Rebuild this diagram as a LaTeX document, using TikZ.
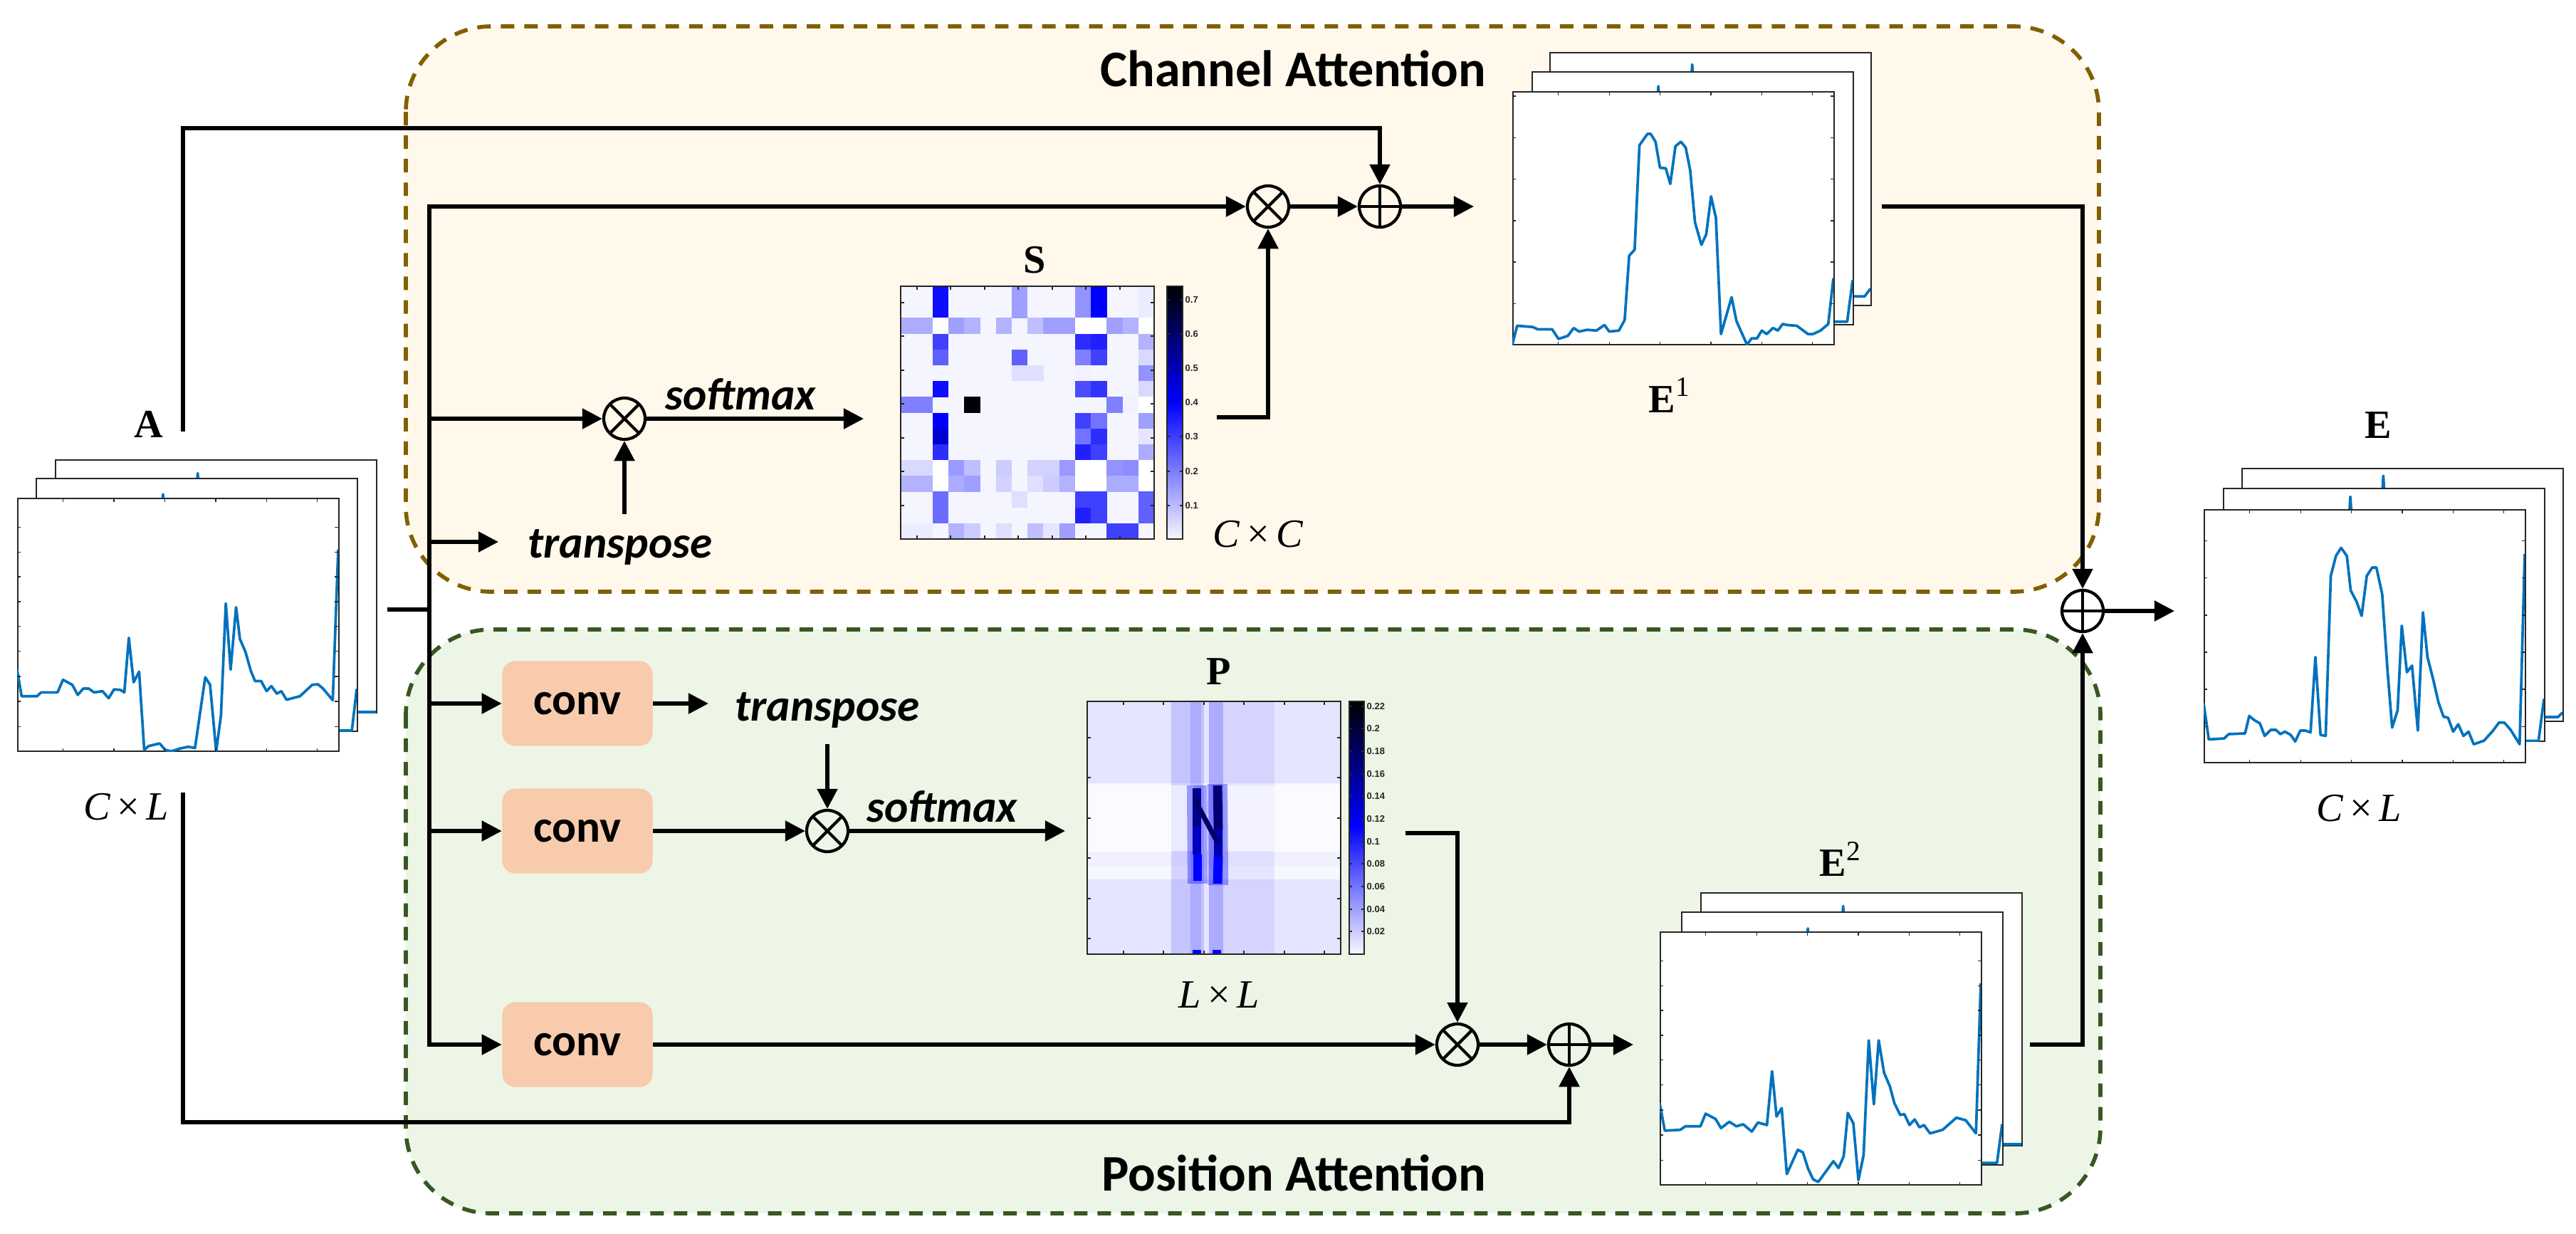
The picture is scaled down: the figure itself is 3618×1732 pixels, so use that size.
\documentclass[tikz,border=0pt]{standalone}
\usepackage{fontspec}
\setmainfont{Liberation Serif}
\newfontfamily\carl{Carlito}
\newfontfamily\arl{Liberation Sans}
\usetikzlibrary{arrows.meta,calc}
\definecolor{chfill}{RGB}{255,248,235}
\definecolor{chborder}{RGB}{128,96,0}
\definecolor{psfill}{RGB}{237,245,230}
\definecolor{psborder}{RGB}{56,87,35}
\definecolor{convfill}{RGB}{248,203,173}
\definecolor{sigblue}{RGB}{0,114,189}
\definecolor{framegray}{RGB}{38,38,38}
\tikzset{
 conn/.style={line width=1.5pt, line join=miter},
 arr/.style={conn, -{Triangle[length=8pt,width=8pt]}},
 opcirc/.style={circle, draw, line width=1.2pt, minimum size=0.58cm, inner sep=0pt},
 mult/.style={opcirc, path picture={\draw[line width=1.2pt] (path picture bounding box.north west)--(path picture bounding box.south east) (path picture bounding box.north east)--(path picture bounding box.south west);}},
 plus/.style={opcirc, path picture={\draw[line width=1.2pt] (path picture bounding box.north)--(path picture bounding box.south) (path picture bounding box.east)--(path picture bounding box.west);}},
 convbox/.style={fill=convfill, rounded corners=0.18cm, minimum width=2.11cm, minimum height=1.19cm, inner sep=0pt, font=\carl\bfseries\fontsize{18}{18}\selectfont},
 optext/.style={font=\carl\bfseries\itshape\fontsize{18}{18}\selectfont, inner sep=1pt},
 title/.style={font=\carl\bfseries\fontsize{20.5}{20.5}\selectfont, inner sep=0pt},
 mlabel/.style={font=\fontsize{16}{16}\selectfont, inner sep=0pt},
 pframe/.style={draw=framegray, fill=white, line width=0.45pt, inner sep=0pt, minimum width=4.51cm, minimum height=3.55cm, anchor=north west},
 sig/.style={draw=sigblue, line width=1.05pt, line join=round},
 tick/.style={draw=framegray, line width=0.4pt},
 cbl/.style={font=\arl\bfseries\fontsize{3.7}{3.7}\selectfont, inner sep=0pt, anchor=west, text=framegray},
 grp/.style={dash pattern=on 5.4pt off 4pt, line width=1.6pt, rounded corners=1.2cm},
 hmframe/.style={draw=framegray, line width=0.5pt},
}
\newcommand\inframe[2]{\begin{scope}[shift={(#1.south west)}, xscale=451, yscale=-355]\clip (0,0) rectangle (1,1); #2\end{scope}}
\newcommand\fticks[1]{\foreach \t in {0.143,0.302,0.46,0.619,0.777,0.935}{\draw[tick] (\t,0)--(\t,0.013) (\t,1)--(\t,0.987);}\foreach \t in {#1}{\draw[tick] (0,\t)--(0.01,\t) (1,\t)--(0.99,\t);}}
\newcommand\sigA{\draw[sig] (0,0.325)--(0.014,0.22)--(0.062,0.22)--(0.075,0.235)--(0.126,0.235)--(0.143,0.285)--(0.172,0.265)--(0.189,0.225)--(0.206,0.25)--(0.223,0.25)--(0.24,0.235)--(0.266,0.24)--(0.285,0.212)--(0.302,0.247)--(0.321,0.245)--(0.334,0.235)--(0.348,0.451)--(0.363,0.275)--(0.38,0.317)--(0.396,0.008)--(0.41,0.023)--(0.444,0.033)--(0.461,0.008)--(0.48,0.002)--(0.508,0.013)--(0.533,0.02)--(0.554,0.015)--(0.586,0.295)--(0.601,0.265)--(0.62,0.002)--(0.635,0.144)--(0.65,0.587)--(0.665,0.325)--(0.682,0.572)--(0.694,0.446)--(0.711,0.396)--(0.728,0.32)--(0.741,0.28)--(0.76,0.28)--(0.777,0.24)--(0.792,0.26)--(0.809,0.23)--(0.823,0.24)--(0.839,0.206)--(0.881,0.22)--(0.919,0.265)--(0.937,0.267)--(0.953,0.25)--(0.983,0.204)--(1,0.8);}
\newcommand\sigEa{\draw[sig] (0,0.002)--(0.015,0.077)--(0.064,0.072)--(0.079,0.063)--(0.124,0.063)--(0.144,0.025)--(0.173,0.037)--(0.191,0.068)--(0.208,0.054)--(0.233,0.061)--(0.262,0.058)--(0.287,0.08)--(0.302,0.054)--(0.332,0.058)--(0.35,0.1)--(0.364,0.354)--(0.381,0.378)--(0.396,0.791)--(0.421,0.836)--(0.431,0.836)--(0.446,0.805)--(0.46,0.702)--(0.478,0.7)--(0.492,0.638)--(0.508,0.787)--(0.525,0.805)--(0.54,0.782)--(0.554,0.692)--(0.569,0.486)--(0.589,0.397)--(0.604,0.439)--(0.619,0.589)--(0.634,0.505)--(0.65,0.044)--(0.683,0.19)--(0.698,0.096)--(0.731,0.002)--(0.745,0.027)--(0.762,0.027)--(0.777,0.058)--(0.792,0.044)--(0.812,0.068)--(0.827,0.058)--(0.842,0.084)--(0.856,0.08)--(0.886,0.077)--(0.921,0.044)--(0.936,0.044)--(0.96,0.058)--(0.984,0.084)--(1,0.265);}
\newcommand\sigEb{\draw[sig] (0,0.325)--(0.016,0.217)--(0.064,0.22)--(0.08,0.234)--(0.127,0.234)--(0.143,0.284)--(0.174,0.263)--(0.191,0.227)--(0.217,0.252)--(0.239,0.234)--(0.26,0.242)--(0.287,0.213)--(0.306,0.249)--(0.334,0.239)--(0.35,0.452)--(0.364,0.273)--(0.38,0.306)--(0.396,0.045)--(0.43,0.141)--(0.446,0.131)--(0.462,0.067)--(0.478,0.024)--(0.494,0.014)--(0.541,0.096)--(0.557,0.069)--(0.573,0.115)--(0.586,0.287)--(0.603,0.246)--(0.619,0.021)--(0.635,0.12)--(0.651,0.574)--(0.667,0.321)--(0.682,0.574)--(0.699,0.445)--(0.717,0.392)--(0.731,0.325)--(0.749,0.279)--(0.762,0.282)--(0.778,0.239)--(0.794,0.261)--(0.809,0.23)--(0.823,0.239)--(0.842,0.206)--(0.881,0.22)--(0.924,0.268)--(0.953,0.258)--(0.985,0.206)--(1,0.8);}
\newcommand\sigE{\draw[sig] (0,0.237)--(0.016,0.094)--(0.064,0.098)--(0.078,0.115)--(0.129,0.118)--(0.142,0.187)--(0.158,0.17)--(0.175,0.158)--(0.19,0.108)--(0.209,0.132)--(0.225,0.132)--(0.239,0.115)--(0.253,0.125)--(0.271,0.112)--(0.285,0.086)--(0.301,0.129)--(0.317,0.129)--(0.333,0.122)--(0.348,0.42)--(0.364,0.112)--(0.38,0.108)--(0.396,0.741)--(0.412,0.82)--(0.428,0.852)--(0.446,0.82)--(0.458,0.683)--(0.476,0.64)--(0.492,0.583)--(0.508,0.741)--(0.525,0.774)--(0.538,0.774)--(0.556,0.669)--(0.573,0.36)--(0.587,0.141)--(0.604,0.209)--(0.617,0.544)--(0.633,0.36)--(0.649,0.386)--(0.667,0.129)--(0.683,0.597)--(0.697,0.42)--(0.715,0.331)--(0.731,0.242)--(0.747,0.184)--(0.761,0.18)--(0.777,0.125)--(0.793,0.154)--(0.809,0.108)--(0.825,0.125)--(0.841,0.075)--(0.873,0.089)--(0.9,0.127)--(0.92,0.161)--(0.936,0.161)--(0.956,0.132)--(0.984,0.075)--(1,0.827);}
\newcommand\spike[2]{\draw[sig] (#1-0.008,0.8)--(#1,#2)--(#1+0.008,0.8);}
\newcommand\hmS[1]{%
 \pgfmathsetmacro\hmP{min(100,#1/0.4*100)}%
 \pgfmathsetmacro\hmQ{max(0,min(100,(0.73-#1)/0.33*100))}%
 \pgfmathtruncatemacro\hmT{#1>0.4?1:0}%
 \ifnum\hmT=1 \colorlet{hc}{blue!\hmQ!black}\else\colorlet{hc}{blue!\hmP!white}\fi}
\begin{document}
\begin{tikzpicture}[x=0.01cm, y=-0.01cm]
\useasboundingbox (0,0) rectangle (3618,1732);
% ---------- groups
\draw[grp, draw=chborder, fill=chfill] (570,37) rectangle (2948,831);
\draw[grp, draw=psborder, fill=psfill] (570,884) rectangle (2950,1704);
\node[title, anchor=base east] (tCh) at (2088,121) {Channel Attention};
\node[title, anchor=base east] (tPs) at (2088,1672) {Position Attention};
% ---------- stack A
\node[pframe] (Aback) at (77,645) {};
\inframe{Aback}{\draw[sig] (0.9,0.005)--(1,0.005); \spike{0.445}{0.95}}
\node[pframe] (Amid) at (50,671) {};
\inframe{Amid}{\draw[sig] (0.94,0.005)--(0.985,0.005)--(1,0.17); \spike{0.397}{0.94}}
\node[pframe] (Afront) at (24,699) {};
\inframe{Afront}{\sigA\fticks{0.1,0.199,0.298,0.398,0.496,0.594,0.693,0.79,0.889}}
\node[mlabel] (labA) at (209,596) {\bfseries A};
\node[mlabel] (labCL1) at (177,1133) {\textit{C}\,×\,\textit{L}};
% ---------- stack E1
\node[pframe] (E1back) at (2176,73) {};
\inframe{E1back}{\draw[sig] (0.945,0.038)--(0.982,0.038)--(1,0.069); \spike{0.445}{0.956}}
\node[pframe] (E1mid) at (2151,100) {};
\inframe{E1mid}{\draw[sig] (0.94,0.014)--(0.983,0.014)--(1,0.178); \spike{0.395}{0.946}}
\node[pframe] (E1front) at (2124,128) {};
\inframe{E1front}{\sigEa\fticks{0.164,0.329,0.492,0.657,0.82,0.985}}
\node[mlabel] (labE1) at (2345,555) {\bfseries E\textsuperscript{\mdseries 1}};
% ---------- stack E2
\node[pframe] (E2back) at (2388,1253) {};
\inframe{E2back}{\draw[sig] (0.94,0.008)--(1,0.008); \spike{0.445}{0.95}}
\node[pframe] (E2mid) at (2361,1280) {};
\inframe{E2mid}{\draw[sig] (0.935,0.01)--(0.984,0.01)--(1,0.164); \spike{0.395}{0.938}}
\node[pframe] (E2front) at (2331,1308) {};
\inframe{E2front}{\sigEb\fticks{0.1,0.199,0.298,0.398,0.496,0.594,0.693,0.79,0.889}}
\node[mlabel] (labE2) at (2585,1206) {\bfseries E\textsuperscript{\mdseries 2}};
% ---------- stack E
\node[pframe] (Eback) at (3148,657) {};
\inframe{Eback}{\draw[sig] (0.944,0.019)--(0.986,0.019)--(1,0.037); \spike{0.442}{0.974}}
\node[pframe] (Emid) at (3122,685) {};
\inframe{Emid}{\draw[sig] (0.941,0.004)--(0.983,0.004)--(1,0.17); \spike{0.397}{0.97}}
\node[pframe] (Efront) at (3095,715) {};
\inframe{Efront}{\sigE\fticks{0.144,0.292,0.439,0.586,0.734,0.88}}
\node[mlabel] (labE) at (3340,597) {\bfseries E};
\node[mlabel] (labCL2) at (3313,1135) {\textit{C}\,×\,\textit{L}};
% ---------- S heatmap
\node[inner sep=0pt, minimum width=3.56cm, minimum height=3.55cm, anchor=north west] (Smap) at (1265,402) {};
\begin{scope}[shift={(Smap.north west)}]
\fill[blue!4!white] (0,0) rectangle (356,355);
\foreach \r/\c/\v in {0/2/.38,1/2/.38,0/7/.15,1/7/.15,0/11/.17,1/11/.17,0/12/.40,1/12/.40,0/15/.03,1/15/.03,
 2/0/.13,2/1/.13,2/2/0,2/3/.15,2/4/.12,2/6/.12,2/8/.10,2/9/.15,2/10/.15,2/11/0,2/12/0,2/13/.15,2/14/.12,2/15/0,
 3/2/.30,3/11/.33,3/12/.35,3/15/.12,
 4/2/.25,4/7/.25,4/11/.20,4/12/.30,4/15/.06,
 5/7/.05,5/8/.05,5/11/.02,5/15/.17,
 6/2/.38,6/11/.28,6/12/.32,6/15/.06,
 7/0/.20,7/1/.20,7/4/.72,7/13/.20,7/14/.02,7/15/0,
 8/2/.40,8/11/.30,8/12/.22,8/15/.15,
 9/2/.46,9/11/.22,9/12/.33,9/15/.04,
 10/2/.33,10/11/.35,10/12/.30,10/15/.13,
 11/0/.06,11/1/.06,11/2/0,11/3/.16,11/4/.10,11/6/.08,11/8/.07,11/9/.07,11/10/.16,11/11/0,11/12/0,11/13/.17,11/14/.18,11/15/0,
 12/0/.12,12/1/.12,12/2/0,12/3/.13,12/4/.15,12/6/.07,12/8/.05,12/9/.08,12/10/.12,12/11/0,12/12/0,12/13/.13,12/14/.13,12/15/0,
 13/2/.23,13/7/.05,13/11/.30,13/12/.30,13/15/.25,
 14/2/.23,14/11/.35,14/12/.30,14/15/.25,
 15/0/.03,15/1/.03,15/3/.12,15/4/.08,15/6/.05,15/8/.10,15/9/.04,15/10/.15,15/13/.30,15/14/.30}
 {\hmS{\v}\fill[hc] (\c*22.25,\r*22.19) rectangle ++(22.6,22.5);}
\draw[hmframe] (0,0) rectangle (356,355);
\foreach \t in {23,70,118,165,213,260,308}{\draw[tick] (\t,355)--(\t,350) (\t,0)--(\t,5) (0,\t)--(5,\t) (356,\t)--(351,\t);}
\end{scope}
% S colorbar
\shade[bottom color=blue!3!white, top color=blue] (1639,757) rectangle (1661,565);
\shade[bottom color=blue, top color=black] (1639,565) rectangle (1661,402);
\draw[hmframe] (1639,402) rectangle (1661,757);
\foreach \y/\l in {421/0.7,469/0.6,517/0.5,565/0.4,613/0.3,662/0.2,710/0.1}{\draw[tick] (1639,\y)--(1643,\y) (1661,\y)--(1657,\y); \node[cbl] at (1664,\y) {\l};}
\node[mlabel] (labS) at (1453,365) {\bfseries S};
\node[mlabel] (labCC) at (1767,750) {\textit{C}\,×\,\textit{C}};
% ---------- P heatmap
\node[inner sep=0pt, minimum width=3.56cm, minimum height=3.55cm, anchor=north west] (Pmap) at (1527,985) {};
\begin{scope}[shift={(Pmap.north west)}]
\fill[blue!10!white] (0,0) rectangle (356,355);
\fill[blue!3!white] (0,115) rectangle (356,212);
\fill[blue!6!white] (0,212) rectangle (356,232);
\fill[blue!3!white] (0,232) rectangle (356,250);
\fill[blue, opacity=.14] (118,0) rectangle (164,355);
\fill[blue, opacity=.12] (145,0) rectangle (160,355);
\fill[blue, opacity=.25] (171,0) rectangle (191,355);
\fill[blue, opacity=.07] (191,0) rectangle (263,355);
\fill[white, opacity=.55] (0,118) rectangle (150,210);
\fill[white, opacity=.55] (195,118) rectangle (356,210);
\draw[blue, opacity=.35, line width=8pt] (154,118)--(155,256) (183,116)--(184,258);
\draw[blue!55!black, line width=3.6pt] (154,122)--(154,175);
\draw[blue!75!black, line width=3.6pt] (154,175)--(154,215);
\draw[blue, line width=3.6pt] (155,215)--(155,252);
\draw[blue!45!black, line width=3.6pt] (183,118)--(184,180);
\draw[blue!70!black, line width=3.6pt] (184,180)--(184,218);
\draw[blue, line width=3.6pt] (184,218)--(183,256);
\draw[blue!40!black, line width=2pt] (152,140)--(184,200);
\fill[blue] (148,349) rectangle (160,355);
\fill[blue] (176,349) rectangle (188,355);
\draw[hmframe] (0,0) rectangle (356,355);
\foreach \t in {51,107,164,220,277,333}{\draw[tick] (\t,355)--(\t,350) (\t,0)--(\t,5) (0,\t)--(5,\t) (356,\t)--(351,\t);}
\end{scope}
% P colorbar
\shade[bottom color=blue!3!white, top color=blue] (1895,1340) rectangle (1916,1160);
\shade[bottom color=blue, top color=black] (1895,1160) rectangle (1916,985);
\draw[hmframe] (1895,985) rectangle (1916,1340);
\foreach \y/\l in {992/0.22,1023/0.2,1055/0.18,1087/0.16,1118/0.14,1150/0.12,1182/0.1,1213/0.08,1245/0.06,1277/0.04,1308/0.02}{\draw[tick] (1895,\y)--(1899,\y) (1916,\y)--(1912,\y); \node[cbl] at (1919,\y) {\l};}
\node[mlabel] (labP) at (1712,943) {\bfseries P};
\node[mlabel] (labLL) at (1712,1397) {\textit{L}\,×\,\textit{L}};
% ---------- operator nodes
\node[mult] (mulC1) at (1781,290) {};
\node[plus] (addC) at (1938,290) {};
\node[mult] (mulC2) at (877,588) {};
\node[optext] (transC) at (871,768) {transpose};
\node[optext] (softC) at (1040,554) {softmax};
\node[convbox] (conv1) at (811,988) {conv};
\node[convbox] (conv2) at (811,1167) {conv};
\node[convbox] (conv3) at (811,1467) {conv};
\node[optext] (transP) at (1162,997) {transpose};
\node[optext] (softP) at (1323,1133) {softmax};
\node[mult] (mulP1) at (1162,1167) {};
\node[mult] (mulP2) at (2047,1467) {};
\node[plus] (addP) at (2204,1467) {};
\node[plus] (addE) at (2925,858) {};
% ---------- coordinates
\coordinate (tTop) at (603,290);
\coordinate (tBot) at (603,1467);
\coordinate (aOut) at (544,856);
\coordinate (aJoin) at (603,856);
\coordinate (aUp0) at (257,606);
\coordinate (aUp1) at (257,180);
\coordinate (aUp2) at (1938,180);
\coordinate (aDn0) at (257,1113);
\coordinate (aDn1) at (257,1576);
\coordinate (aDn2) at (2204,1576);
\coordinate (e1Out) at (2643,290);
\coordinate (e1Turn) at (2925,290);
\coordinate (e2Out) at (2851,1467);
\coordinate (e2Turn) at (2925,1467);
\coordinate (e1In) at (2070,290);
\coordinate (e2In) at (2294,1467);
\coordinate (eIn) at (3054,858);
\coordinate (sIn) at (1213,588);
\coordinate (sOut) at (1709,586);
\coordinate (sTurn) at (1781,586);
\coordinate (pIn) at (1496,1167);
\coordinate (pOut) at (1974,1170);
\coordinate (pTurn) at (2047,1170);
\coordinate (bC2) at (603,588);
\coordinate (bT) at (603,761);
\coordinate (tIn) at (700,761);
\coordinate (tUp) at (877,722);
\coordinate (bP1) at (603,988);
\coordinate (bP2) at (603,1167);
\coordinate (tpIn) at (995,988);
\coordinate (tpDn) at (1162,1045);
% ---------- connectors
\draw[conn] (aOut) -- (aJoin);
\draw[arr] (tBot) -- (tTop) -- (mulC1);
\draw[arr] (aJoin) -- (tBot) -- (conv3);
\draw[arr] (bC2) -- (mulC2);
\draw[arr] (bT) -- (tIn);
\draw[arr] (tUp) -- (mulC2);
\draw[arr] (mulC2) -- (sIn);
\draw[arr] (sOut) -- (sTurn) -- (mulC1);
\draw[arr] (mulC1) -- (addC);
\draw[arr] (aUp0) -- (aUp1) -- (aUp2) -- (addC);
\draw[arr] (addC) -- (e1In);
\draw[arr] (e1Out) -- (e1Turn) -- (addE);
\draw[arr] (addE) -- (eIn);
\draw[arr] (bP1) -- (conv1);
\draw[arr] (bP2) -- (conv2);
\draw[arr] (conv1) -- (tpIn);
\draw[arr] (tpDn) -- (mulP1);
\draw[arr] (conv2) -- (mulP1);
\draw[arr] (mulP1) -- (pIn);
\draw[arr] (pOut) -- (pTurn) -- (mulP2);
\draw[arr] (conv3) -- (mulP2);
\draw[arr] (mulP2) -- (addP);
\draw[arr] (aDn0) -- (aDn1) -- (aDn2) -- (addP);
\draw[arr] (addP) -- (e2In);
\draw[arr] (e2Out) -- (e2Turn) -- (addE);
\end{tikzpicture}
\end{document}
